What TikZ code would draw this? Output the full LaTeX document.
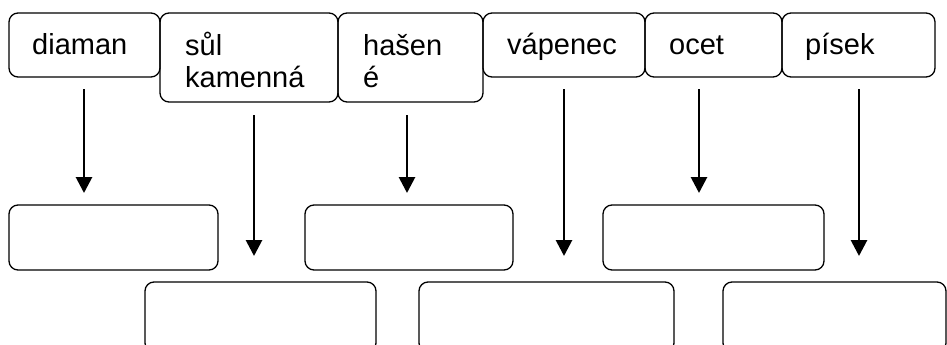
\documentclass[tikz,border=0pt]{standalone}
\usepackage{fontspec}
\setmainfont{Liberation Sans}
\usetikzlibrary{arrows.meta}
\begin{document}
\begin{tikzpicture}[x=1pt,y=-1pt,
  box/.style={draw,line width=1.3pt,rounded corners=9pt,inner sep=0pt},
  lbl/.style={anchor=base west,inner sep=0pt,font=\fontsize{29}{32}\selectfont,align=left},
  arr/.style={line width=2.8pt,-{Triangle[width=16pt,length=16pt]}}]
\useasboundingbox (0,0) rectangle (947,345);
\clip (0,0) rectangle (947,345);
\fill[white] (0,0) rectangle (947,345);
% top row
\draw[box] (9,13) rectangle (160,77) node[midway] (b1) {};
\draw[box] (160,13) rectangle (338,102) node[midway] (b2) {};
\draw[box] (338,13) rectangle (483,102) node[midway] (b3) {};
\draw[box] (483,13) rectangle (645,77) node[midway] (b4) {};
\draw[box] (645,13) rectangle (782,77) node[midway] (b5) {};
\draw[box] (782,13) rectangle (935,77) node[midway] (b6) {};
\node[lbl] (t1) at (32,55) {diaman};
\node[lbl] (t2) at (185,87) {sůl\\kamenná};
\node[lbl] (t3) at (363,87) {hašen\\é};
\node[lbl] (t4) at (507,55) {vápenec};
\node[lbl] (t5) at (669,55) {ocet};
\node[lbl] (t6) at (805,55) {písek};
% middle row
\draw[box] (9,205) rectangle (218,270) node[midway] (m1) {};
\draw[box] (305,205) rectangle (513,270) node[midway] (m2) {};
\draw[box] (603,205) rectangle (824,270) node[midway] (m3) {};
% bottom row
\draw[box] (145,282) rectangle (376,352) node[midway] (d1) {};
\draw[box] (419,282) rectangle (674,352) node[midway] (d2) {};
\draw[box] (723,282) rectangle (946,352) node[midway] (d3) {};
% arrows
\coordinate (a1s) at (84,89);  \coordinate (a1e) at (84,193);
\coordinate (a2s) at (254,115); \coordinate (a2e) at (254,256);
\coordinate (a3s) at (407,115); \coordinate (a3e) at (407,193);
\coordinate (a4s) at (564,89); \coordinate (a4e) at (564,256);
\coordinate (a5s) at (699,89); \coordinate (a5e) at (699,193);
\coordinate (a6s) at (859,89); \coordinate (a6e) at (859,256);
\draw[arr] (a1s) -- (a1e);
\draw[arr] (a2s) -- (a2e);
\draw[arr] (a3s) -- (a3e);
\draw[arr] (a4s) -- (a4e);
\draw[arr] (a5s) -- (a5e);
\draw[arr] (a6s) -- (a6e);
\end{tikzpicture}
\end{document}
